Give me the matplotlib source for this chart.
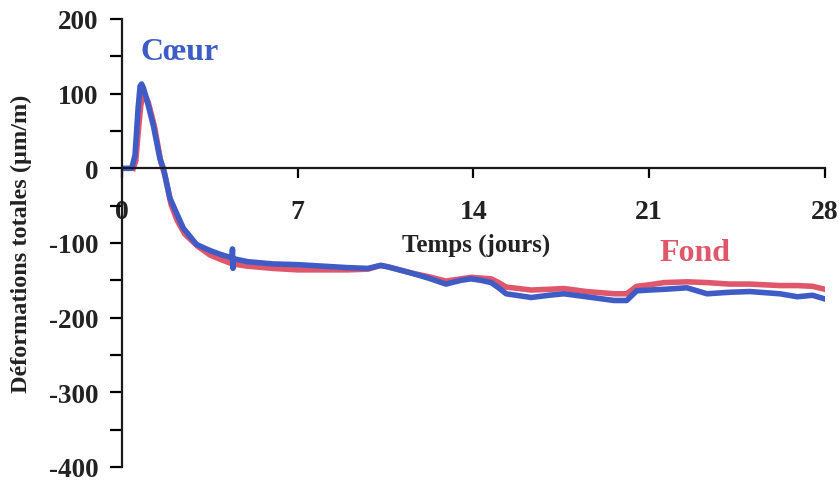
import numpy as np
import matplotlib
matplotlib.use("Agg")
import matplotlib.pyplot as plt

# données (jours, µm/m)
days_coeur = [0.0, 0.39, 0.52, 0.64, 0.72, 0.78, 0.85, 0.98, 1.25, 1.51, 1.65, 1.91, 2.2, 2.44,
              2.97, 3.5, 3.9, 4.38, 4.4, 4.42, 4.44, 5.0, 6.0, 7.0, 8.0, 9.0, 9.8, 10.3, 10.6,
              11.5, 12.2, 12.9, 13.5, 13.9, 14.3, 14.7, 15.0, 15.3, 16.3, 17.0, 17.6, 18.5,
              19.6, 20.1, 20.5, 21.0, 21.6, 22.5, 23.3, 24.2, 25.0, 26.2, 26.9, 27.5, 28.0]
coeur = [0, 0, 18, 80, 110, 113, 108, 93, 57, 13, 0, -40, -62, -80,
         -102, -110, -115, -120, -108, -134, -121, -125, -128, -129, -131, -133, -134, -130, -132,
         -140, -147, -155, -150, -148, -150, -153, -160, -168, -173, -170, -168, -172,
         -177, -177, -164, -163, -162, -160, -168, -166, -165, -168, -172, -170, -175]

days_fond = [0.45, 0.55, 0.65, 0.75, 0.85, 0.95, 1.05, 1.3, 1.55, 1.7, 1.95, 2.2, 2.5,
             3.0, 3.5, 4.0, 4.4, 5.0, 6.0, 7.0, 8.0, 9.0, 9.8, 10.3, 10.6,
             11.5, 12.2, 12.9, 13.5, 13.9, 14.3, 14.7, 15.0, 15.3, 16.3, 17.0, 17.6, 18.5,
             19.6, 20.1, 20.5, 21.0, 21.6, 22.5, 23.3, 24.2, 25.0, 26.2, 26.9, 27.5, 28.0]
fond = [0, 10, 50, 85, 97, 95, 88, 55, 8, -8, -48, -70, -88,
        -104, -116, -123, -128, -131, -134, -136, -136, -136, -135, -130, -132,
        -140, -145, -151, -148, -146, -147, -148, -153, -159, -163, -162, -161, -165,
        -168, -168, -158, -156, -153, -152, -153, -155, -155, -157, -157, -158, -162]

xticks = [0, 7, 14, 21, 28]
yticks = [-400, -300, -200, -100, 0, 100, 200]

plt.rcParams["font.family"] = ["Liberation Serif", "DejaVu Serif"]
plt.rcParams["font.weight"] = "bold"
plt.rcParams["axes.unicode_minus"] = False

fig = plt.figure(figsize=(8.39, 4.85), dpi=100)
ax = fig.add_axes([122/839, 1-468/485, 703/839, 448/485])

ax.plot(days_fond, fond, color="#e0566a", lw=4, solid_joinstyle="round")
ax.plot(days_coeur, coeur, color="#3f5cc6", lw=4, solid_joinstyle="round")

ax.set_xlim(0, 28)
ax.set_ylim(-400, 200)

ax.spines["top"].set_visible(False)
ax.spines["right"].set_visible(False)
ax.spines["bottom"].set_position(("data", 0))
for s in ["left", "bottom"]:
    ax.spines[s].set_linewidth(1.6)
    ax.spines[s].set_color("#1a1a1a")

ax.set_xticks(xticks)
ax.set_xticklabels([str(t) for t in xticks])
ax.set_yticks(yticks)
ax.set_yticklabels([str(t) for t in yticks])
ax.set_yticks(np.arange(-350, 200, 100), minor=True)

ax.tick_params(axis="x", direction="out", length=7, width=1.6, pad=15, labelsize=20,
               labelcolor="#222222")
ax.tick_params(axis="y", which="both", direction="out", length=9, width=1.6, pad=8, labelsize=19.5,
               labelcolor="#222222")

ax.set_ylabel("Déformations totales (µm/m)", fontsize=17.5, fontweight="bold", color="#222222")
ax.yaxis.set_label_coords(-0.128, 0.5)

ax.text(14.1, -102, "Temps (jours)", fontsize=18, fontweight="bold", ha="center", va="center", color="#222222")
ax.text(0.72, 157, "Cœur", fontsize=23, fontweight="bold", ha="left", va="center", color="#3f5cc6")
ax.text(21.4, -113, "Fond", fontsize=23, fontweight="bold", ha="left", va="center", color="#e0566a")

fig.savefig("out.png", dpi=100)
